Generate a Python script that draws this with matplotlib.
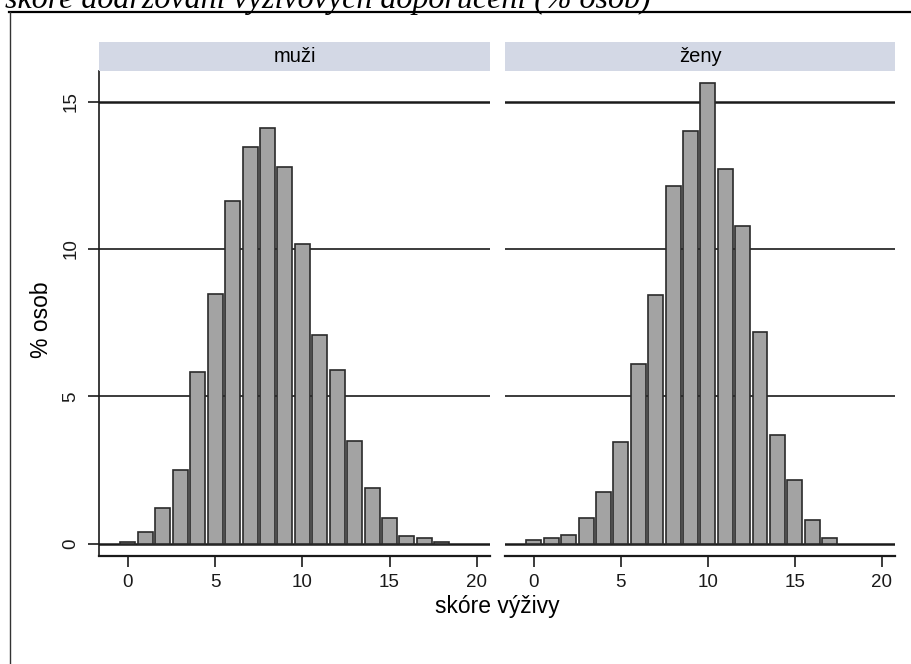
import matplotlib
matplotlib.use("Agg")
import matplotlib.pyplot as plt
from matplotlib.lines import Line2D
from matplotlib.patches import Rectangle

plt.rcParams['font.family'] = ['Liberation Sans', 'DejaVu Sans']

# Data
scores = list(range(0, 19))
muzi = [0.06, 0.41, 1.2, 2.51, 5.84, 8.46, 11.63, 13.45, 14.1, 12.79, 10.17,
        7.07, 5.89, 3.48, 1.9, 0.86, 0.27, 0.19, 0.06]
scores_z = list(range(0, 18))
zeny = [0.12, 0.18, 0.3, 0.86, 1.74, 3.45, 6.09, 8.44, 12.14, 14.0, 15.64,
        12.7, 10.79, 7.19, 3.69, 2.16, 0.8, 0.18]
panel_titles = ["muži", "ženy"]
yticks = [0, 5, 10, 15]
xticks = [0, 5, 10, 15, 20]
title = "skóre dodržování výživových doporučení (% osob)"
xlabel = "skóre výživy"
ylabel = "% osob"

W, H = 911, 664
fig = plt.figure(figsize=(W / 100, H / 100), dpi=100)
fig.patch.set_facecolor('white')

def fx(px):
    return px / W

def fy(py):
    return 1 - py / H

# outer frame
fig.add_artist(Line2D([fx(9), 1.0], [fy(12), fy(12)], color='black', lw=1.6))
fig.add_artist(Line2D([fx(10), fx(10)], [fy(12), 0], color='#333333', lw=1.0))

fig.text(fx(5), fy(8), title, family='Liberation Serif', style='italic',
         fontsize=23, va='baseline', ha='left')

panels = [(99, 490, scores, muzi, True), (505, 895, scores_z, zeny, False)]
ax_top, ax_bot = 71, 556
for i, (x0, x1, xs, vals, first) in enumerate(panels):
    ax = fig.add_axes([fx(x0), fy(ax_bot), (x1 - x0) / W, (ax_bot - ax_top) / H])
    ax.set_xlim(-1.66, 20.76)
    ax.set_ylim(-0.42, 16.04)
    for yv in yticks:
        lw = 1.8 if yv in (0, 15) else 1.2
        ax.axhline(yv, color='#1a1a1a', lw=lw, zorder=1)
    ax.bar(xs, vals, width=0.86, color='#a3a3a3', edgecolor='#2a2a2a',
           linewidth=1.2, zorder=2)
    for s in ['top', 'right']:
        ax.spines[s].set_visible(False)
    ax.spines['bottom'].set_linewidth(1.6)
    ax.spines['bottom'].set_color('#1a1a1a')
    ax.set_xticks(xticks)
    ax.tick_params(axis='x', length=8, width=1.2, labelsize=13.5, pad=5,
                   colors='#1a1a1a')
    if first:
        ax.spines['left'].set_linewidth(1.2)
        ax.spines['left'].set_color('#1a1a1a')
        ax.set_yticks(yticks)
        ax.tick_params(axis='y', length=8, width=1.2, labelsize=13.5, pad=6,
                       colors='#1a1a1a')
        for lab in ax.get_yticklabels():
            lab.set_rotation(90)
            lab.set_va('center')
    else:
        ax.spines['left'].set_visible(False)
        ax.set_yticks([])
    ax.patch.set_alpha(0)
    # strip
    sax = fig.add_axes([fx(x0), fy(ax_top), (x1 - x0) / W, 29 / H])
    sax.set_facecolor('#d3d8e5')
    for s in sax.spines.values():
        s.set_visible(False)
    sax.set_xticks([])
    sax.set_yticks([])
    sax.text(0.5, 0.5, panel_titles[i], ha='center', va='center',
             fontsize=14.5, transform=sax.transAxes)

fig.text(fx(497), fy(607), xlabel, ha='center', va='center', fontsize=16.5)
fig.text(fx(41), fy(320), ylabel, ha='center', va='center', fontsize=16.5,
         rotation=90)

fig.savefig('out.png', dpi=100)
